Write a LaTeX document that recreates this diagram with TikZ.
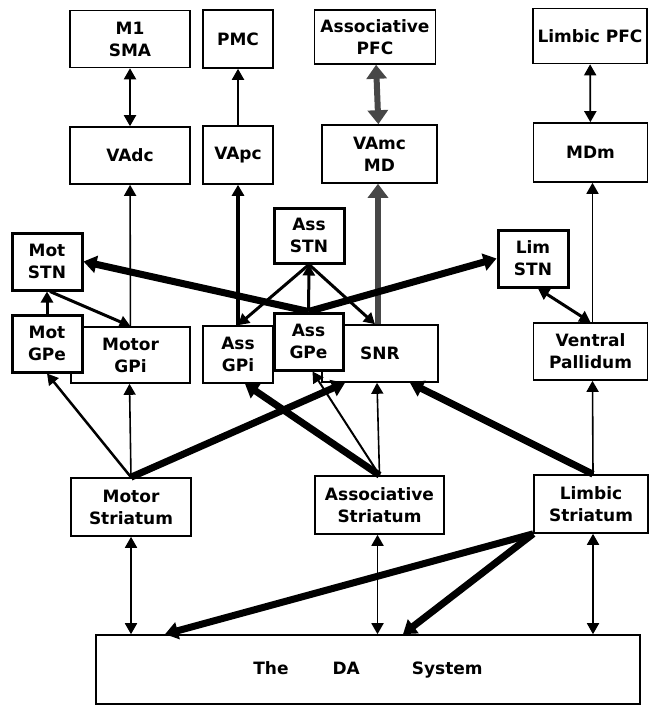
\documentclass[tikz,border=0pt]{standalone}
\usepackage{fontspec}
\setmainfont{DejaVu Sans}
\usetikzlibrary{arrows.meta}

\begin{document}
\begin{tikzpicture}[x=1pt,y=-1pt,
	box/.style={draw,line width=1.6pt,fill=white,inner sep=0pt,align=center,
		font=\fontsize{17}{22}\selectfont\bfseries},
	stnbox/.style={box,line width=3pt},
	tip/.style={-{Triangle[length=11pt,width=12pt]}},
	both/.style={{Triangle[length=11pt,width=12pt]}-{Triangle[length=11pt,width=12pt]}},
	heavy/.style={line width=7pt,-{Triangle[length=13pt,width=17pt]}},
	grey/.style={line width=6pt,draw=black!72,
		{Triangle[length=14pt,width=20pt]}-{Triangle[length=14pt,width=20pt]}}]
		\useasboundingbox (0,0) rectangle (648,706);
		
		% cortex and thalamus
		\node[box,minimum width=120pt,minimum height=57pt] (m1) at (130,39) {M1\\SMA};
		\node[box,minimum width=70pt,minimum height=58pt] (pmc) at (238,39) {PMC};
		\node[box,minimum width=121pt,minimum height=54pt] (apfc) at (375,37) {Associative\\PFC};
		\node[box,minimum width=114pt,minimum height=55pt] (lpfc) at (590,36) {Limbic PFC};
		\node[box,minimum width=120pt,minimum height=57pt] (vadc) at (130,155.5) {VAdc};
		\node[box,minimum width=70pt,minimum height=58pt] (vapc) at (238,155) {VApc};
		\node[box,minimum width=115pt,minimum height=58pt] (vamc) at (379.5,154) {VAmc\\MD};
		\node[box,minimum width=114pt,minimum height=59pt] (mdm) at (590.5,152.5) {MDm};
		
		% pallidum, STN, SNR
		\node[box,minimum width=119pt,minimum height=56pt] (motgpi) at (130.5,355) {Motor\\GPi};
		\node[stnbox,minimum width=70pt,minimum height=57pt] (motgpe) at (47,343.5) {Mot\\GPe};
		\node[stnbox,minimum width=70pt,minimum height=57pt] (motstn) at (47,261.5) {Mot\\STN};
		\node[box,minimum width=70pt,minimum height=57pt] (assgpi) at (238,354.5) {Ass\\GPi};
		\node[stnbox,minimum width=70pt,minimum height=55pt] (assstn) at (309,235.5) {Ass\\STN};
		\node[box,minimum width=116pt,minimum height=57pt] (snr) at (380,353.5) {SNR};
		\node[stnbox,minimum width=69pt,minimum height=57pt] (assgpe) at (308.5,341.5) {Ass\\GPe};
		\node[stnbox,minimum width=70pt,minimum height=57pt] (limstn) at (533,258.5) {Lim\\STN};
		\node[box,minimum width=114pt,minimum height=57pt] (vp) at (590.5,351.5) {Ventral\\Pallidum};
		
		% striatum and DA
		\node[box,minimum width=120pt,minimum height=58pt] (motstr) at (131,507) {Motor\\Striatum};
		\node[box,minimum width=129pt,minimum height=58pt] (assstr) at (379.5,505) {Associative\\Striatum};
		\node[box,minimum width=114pt,minimum height=58pt] (limstr) at (591,504) {Limbic\\Striatum};
		\node[box,minimum width=544pt,minimum height=69pt] (da) at (368,669.5)
			{The\hspace{44pt}DA\hspace{52pt}System};
		
		% thalamo-cortical
		\draw[both,line width=2pt] (m1) -- (vadc);
		\draw[tip,line width=2pt] (vapc) -- (pmc);
		\draw[grey] (apfc) -- (vamc);
		\draw[both,line width=1.8pt] (lpfc) -- (mdm);
		
		% output to thalamus
		\draw[tip,line width=1.6pt] (motgpi) -- (vadc);
		\draw[tip,line width=3.5pt] (assgpi) -- (vapc);
		\draw[grey,-{Triangle[length=14pt,width=20pt]}] ([xshift=-2pt]snr.north) -- ([xshift=-1.5pt]vamc.south);
		\draw[tip,line width=1.6pt] ([xshift=2pt]vp.north) -- ([xshift=2pt]mdm.south);
		
		% STN loops
		\draw[tip,line width=3pt] (motgpe) -- (motstn);
		\draw[tip,line width=3pt] ([xshift=3pt]motstn.south) -- (motgpi.north);
		\draw[heavy] (assgpe.north) -- (motstn.east);
		\draw[heavy] (assgpe.north) -- (limstn.west);
		\draw[tip,line width=3pt] (assgpe) -- (assstn);
		\draw[tip,line width=3pt] (assstn.south) -- (assgpi.north);
		\draw[tip,line width=3pt] (assstn.south) -- ([xshift=-5pt]snr.north);
		\draw[both,line width=3pt] ([xshift=5pt]limstn.south) -- (vp.north);
		
		% striatal output
		\draw[tip,line width=2.5pt] (motstr.north) -- (motgpe.south);
		\draw[tip,line width=1.6pt] (motstr.north) -- ([xshift=-1pt]motgpi.south);
		\draw[heavy] (motstr.north) -- ([xshift=-35pt]snr.south);
		\draw[heavy] (assstr.north) -- ([xshift=7pt]assgpi.south);
		\draw[tip,line width=2pt] (assstr.north) -- ([xshift=4pt]assgpe.south);
		\draw[tip,line width=1.6pt] (assstr.north) -- ([xshift=-3pt]snr.south);
		\draw[heavy] ([xshift=2pt]limstr.north) -- ([xshift=30pt]snr.south);
		\draw[tip,line width=1.6pt] ([xshift=2pt]limstr.north) -- ([xshift=2pt]vp.south);
		
		% DA system
		\draw[both,line width=1.8pt] (motstr.south) -- (motstr.south |- da.north);
		\draw[both,line width=1.8pt] ([xshift=-2pt]assstr.south) -- ([xshift=-2pt]assstr.south |- da.north);
		\draw[both,line width=1.8pt] ([xshift=2pt]limstr.south) -- ([xshift=2pt]limstr.south |- da.north);
		\draw[heavy] (limstr.south west) -- ([xshift=-203pt]da.north);
		\draw[heavy] (limstr.south west) -- ([xshift=35pt]da.north);
\end{tikzpicture}
\end{document}
